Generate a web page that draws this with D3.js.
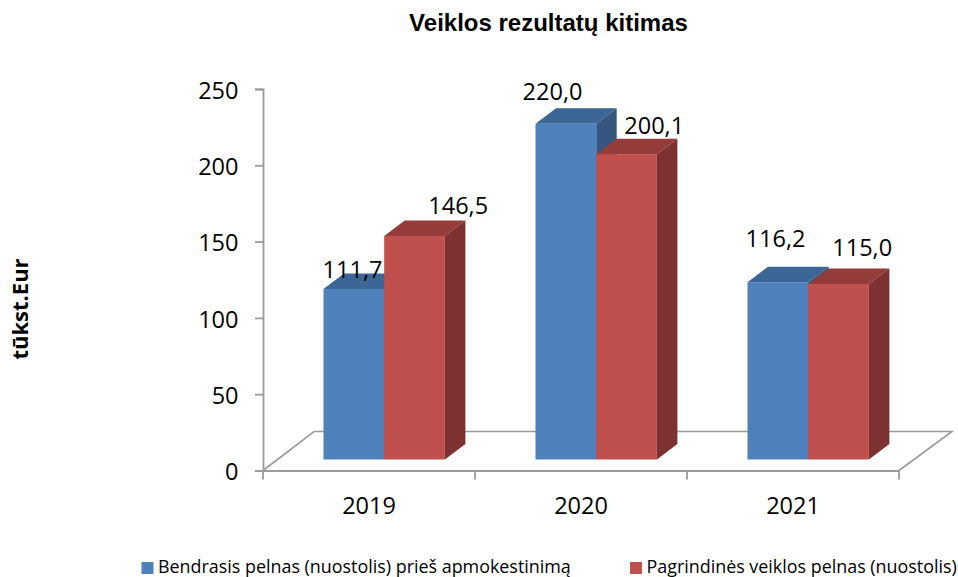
<!DOCTYPE html>
<html>
<head>
<meta charset="utf-8">
<script src="https://cdn.jsdelivr.net/npm/d3@7"></script>
<style>
  html, body { margin: 0; background: #fff; }
  svg { display: block; }
</style>
</head>
<body>
<div id="chart"></div>
<script>
const years = ['2019', '2020', '2021'];
const seriesNames = ['Bendrasis pelnas (nuostolis) prieš apmokestinimą', 'Pagrindinės veiklos pelnas (nuostolis)'];
const grossProfit = [111.7, 220.0, 116.2];
const operatingProfit = [146.5, 200.1, 115.0];
const yTicks = [0, 50, 100, 150, 200, 250];
const seriesValues = [grossProfit, operatingProfit];

const W = 958;
const H = 577;
const labelFont = '"Open Sans", "Noto Sans", sans-serif';
const axisColor = '#9a9a9a';
// [front, top, side] per series
const shades = [
  ['#4f81bd', '#3c6696', '#34567f'],
  ['#c0504d', '#943c3a', '#7d3130'],
];
// hand placed data labels in the original: [dx from bar left, dy above bar top]
const labelNudge = [
  [[29, 11], [17, 24], [28, 35]],
  [[74, 22], [58, 20], [54, 28]],
];

const svg = d3.select('#chart').append('svg').attr('width', W).attr('height', H);

const x0 = d3.scaleBand().domain(years).range([263, 899]);
const x1 = d3.scaleBand().domain(d3.range(seriesNames.length)).range([0, 121.4]);
const y = d3.scaleLinear().domain([0, 250]).range([470.5, 89]);

// 3d offsets
const barInset = 60.5;
const barLift = 11;
const barDx = 20.5;
const barDy = 15.5;
const floorDx = 52;
const floorDy = 39;

// floor
const [fx0, fx1] = x0.range();
const fy = y(0);
svg.append('path')
  .attr('d', `M${fx0},${fy}L${fx0 + floorDx - 1},${fy - floorDy}L${fx1 + floorDx + 1},${fy - floorDy}L${fx1},${fy}`)
  .attr('fill', 'none')
  .attr('stroke', axisColor)
  .attr('stroke-width', 1.6);

// axes
const yAxis = svg.append('g')
  .attr('transform', `translate(${fx0},0)`)
  .call(d3.axisLeft(y).tickValues(yTicks).tickSize(8).tickPadding(16.5).tickFormat(d3.format('d')));
const xAxis = svg.append('g')
  .attr('transform', `translate(0,${fy})`)
  .call(d3.axisBottom(x0).tickValues([]).tickSizeOuter(0));
xAxis.selectAll('.cat-tick')
  .data(d3.range(years.length + 1))
  .join('line')
  .attr('class', 'cat-tick')
  .attr('x1', (i) => fx0 + i * x0.bandwidth())
  .attr('x2', (i) => fx0 + i * x0.bandwidth())
  .attr('y1', 0)
  .attr('y2', 9);
xAxis.selectAll('.cat-label')
  .data(years)
  .join('text')
  .attr('class', 'cat-label')
  .attr('x', (d) => x0(d) + x0.bandwidth() / 2)
  .attr('y', 43)
  .attr('text-anchor', 'middle')
  .text((d) => d);

[yAxis, xAxis].forEach((g) => {
  g.selectAll('.domain, line').attr('stroke', axisColor).attr('stroke-width', 1.8);
  g.selectAll('text')
    .attr('fill', '#000')
    .attr('font-family', labelFont)
    .attr('font-size', 23.5);
});
yAxis.selectAll('text').attr('dy', '0.39em');

// bars, one series after the other so red covers the blue side
seriesValues.forEach((vals, s) => {
  const barW = x1.bandwidth();
  const g = svg.append('g');
  const rows = vals.map((v, i) => ({
    v,
    x: x0(years[i]) + barInset + x1(s),
    top: y(v) - barLift,
    h: y(0) - y(v),
  }));
  g.selectAll('path.top')
    .data(rows)
    .join('path')
    .attr('class', 'top')
    .attr('fill', shades[s][1])
    .attr('d', (d) => `M${d.x},${d.top}l${barDx},${-barDy}h${barW}l${-barDx},${barDy}Z`);
  g.selectAll('path.side')
    .data(rows)
    .join('path')
    .attr('class', 'side')
    .attr('fill', shades[s][2])
    .attr('d', (d) => `M${d.x + barW},${d.top}l${barDx},${-barDy}v${d.h}l${-barDx},${barDy}Z`);
  g.selectAll('rect')
    .data(rows)
    .join('rect')
    .attr('x', (d) => d.x)
    .attr('y', (d) => d.top)
    .attr('width', barW)
    .attr('height', (d) => d.h)
    .attr('fill', shades[s][0]);
});

// data labels go on top of all bars
const labels = svg.append('g')
  .attr('font-family', labelFont)
  .attr('font-size', 23.5)
  .attr('text-anchor', 'middle')
  .attr('fill', '#000');
seriesValues.forEach((vals, s) => {
  vals.forEach((v, i) => {
    const [dx, dy] = labelNudge[s][i];
    labels.append('text')
      .attr('x', x0(years[i]) + barInset + x1(s) + dx)
      .attr('y', y(v) - barLift - dy)
      .text(v.toFixed(1).replace('.', ','));
  });
});

// title and y axis title
svg.append('text')
  .attr('x', 548.5)
  .attr('y', 31)
  .attr('text-anchor', 'middle')
  .attr('font-family', '"Liberation Sans", Arial, sans-serif')
  .attr('font-weight', 700)
  .attr('font-size', 24)
  .text('Veiklos rezultatų kitimas');
svg.append('text')
  .attr('transform', 'translate(28,309) rotate(-90)')
  .attr('text-anchor', 'middle')
  .attr('font-family', labelFont)
  .attr('font-weight', 700)
  .attr('font-size', 22)
  .text('tūkst.Eur');

// legend
const legendX = [141.5, 630];
const legend = svg.append('g').selectAll('g')
  .data(seriesNames)
  .join('g')
  .attr('transform', (d, i) => `translate(${legendX[i]},562)`);
legend.append('rect')
  .attr('width', 12)
  .attr('height', 12)
  .attr('fill', (d, i) => shades[i][0]);
legend.append('text')
  .attr('x', 16.5)
  .attr('y', 11)
  .attr('font-family', labelFont)
  .attr('font-size', 17.9)
  .attr('fill', '#000')
  .text((d) => d);
</script>
</body>
</html>
